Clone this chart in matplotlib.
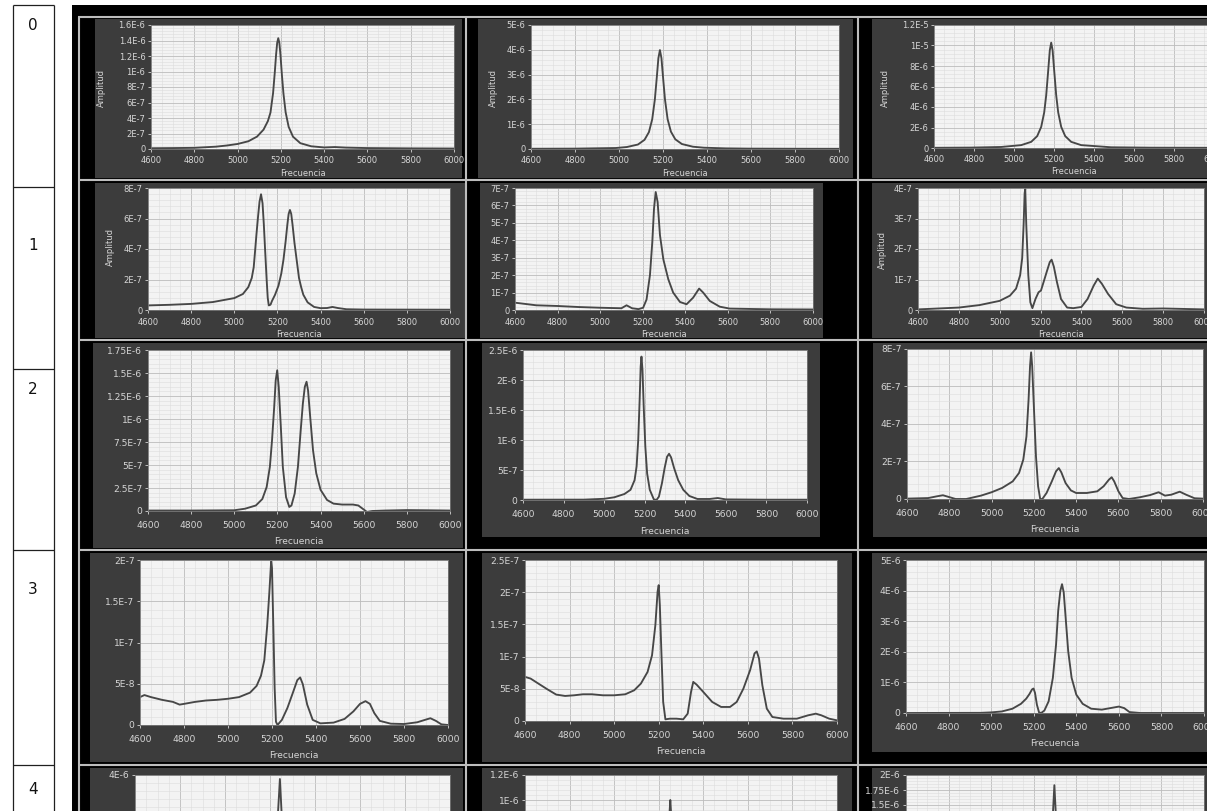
import matplotlib
matplotlib.use("Agg")
import matplotlib.pyplot as plt
from matplotlib.patches import Rectangle
from matplotlib.lines import Line2D
from matplotlib.ticker import AutoMinorLocator
from matplotlib import font_manager

W, H = 1207, 811

# ---------------------------------------------------------------- data
freq_ticks = ['4600', '4800', '5000', '5200', '5400', '5600', '5800', '6000']
row_labels = ['0', '1', '2', '3', '4']

# each spectrum: (frequency [Hz], amplitude in the panel's unit)
r0c0_unit = 1e-6
r0c0_yticks = ['0', '2E-7', '4E-7', '6E-7', '8E-7', '1E-6', '1.2E-6', '1.4E-6', '1.6E-6']
r0c0 = [(4600, 0.010), (4700, 0.012), (4800, 0.015), (4900, 0.030), (4950, 0.045),
        (5000, 0.065), (5050, 0.10), (5090, 0.16), (5120, 0.25), (5140, 0.36),
        (5152, 0.47), (5164, 0.72), (5172, 0.99), (5178, 1.22), (5183, 1.37),
        (5188, 1.43), (5193, 1.37), (5198, 1.22), (5205, 0.95), (5212, 0.715),
        (5222, 0.475), (5236, 0.286), (5256, 0.159), (5290, 0.075), (5340, 0.035),
        (5400, 0.02), (5450, 0.025), (5500, 0.018), (5600, 0.012), (5700, 0.01),
        (5800, 0.008), (6000, 0.006)]

r0c1_unit = 1e-6
r0c1_yticks = ['0', '1E-6', '2E-6', '3E-6', '4E-6', '5E-6']
r0c1 = [(4600, 0.01), (4800, 0.015), (4986, 0.04), (5036, 0.08), (5086, 0.18),
        (5116, 0.37), (5136, 0.68), (5151, 1.2), (5163, 2.0), (5172, 2.91),
        (5179, 3.66), (5186, 3.99), (5193, 3.66), (5200, 2.91), (5209, 2.0),
        (5221, 1.2), (5236, 0.70), (5256, 0.39), (5286, 0.2), (5336, 0.092),
        (5386, 0.052), (5486, 0.025), (5586, 0.015), (5800, 0.01), (6000, 0.008)]

r0c2_unit = 1e-6
r0c2_yticks = ['0', '2E-6', '4E-6', '6E-6', '8E-6', '1E-5', '1.2E-5']
r0c2 = [(4600, 0.02), (4786, 0.04), (4936, 0.10), (5036, 0.28), (5086, 0.60),
        (5116, 1.16), (5136, 2.06), (5151, 3.47), (5161, 5.14), (5171, 7.55),
        (5179, 9.53), (5186, 10.28), (5193, 9.53), (5201, 7.55), (5211, 5.14),
        (5221, 3.47), (5236, 2.06), (5256, 1.16), (5286, 0.60), (5336, 0.28),
        (5486, 0.07), (5686, 0.03), (6000, 0.02)]

r1c0_unit = 1e-7
r1c0_yticks = ['0', '2E-7', '4E-7', '6E-7', '8E-7']
r1c0 = [(4600, 0.30), (4700, 0.34), (4800, 0.40), (4900, 0.52), (5000, 0.78),
        (5040, 1.05), (5065, 1.5), (5081, 2.1), (5090, 2.8), (5096, 3.8),
        (5103, 5.0), (5110, 6.1), (5117, 7.1), (5124, 7.59), (5131, 7.0),
        (5137, 5.6), (5143, 3.9), (5150, 2.0), (5155, 0.8), (5160, 0.3),
        (5168, 0.35), (5175, 0.6), (5189, 1.0), (5205, 1.6), (5218, 2.4),
        (5228, 3.3), (5238, 4.5), (5246, 5.6), (5252, 6.3), (5258, 6.56),
        (5264, 6.3), (5270, 5.6), (5279, 4.4), (5289, 3.3), (5300, 2.1),
        (5310, 1.5), (5320, 1.0), (5340, 0.5), (5370, 0.2), (5400, 0.12),
        (5430, 0.13), (5455, 0.2), (5480, 0.13), (5520, 0.05), (5600, 0.03),
        (6000, 0.02)]

r1c1_unit = 1e-7
r1c1_yticks = ['0', '1E-7', '2E-7', '3E-7', '4E-7', '5E-7', '6E-7', '7E-7']
r1c1 = [(4600, 0.42), (4700, 0.27), (4800, 0.23), (4900, 0.17), (5000, 0.13),
        (5100, 0.10), (5124, 0.27), (5150, 0.10), (5180, 0.05), (5202, 0.13),
        (5218, 0.6), (5234, 2.0), (5245, 3.9), (5253, 5.8), (5261, 6.77),
        (5270, 6.2), (5281, 4.3), (5297, 2.9), (5320, 1.77), (5343, 1.0),
        (5375, 0.46), (5406, 0.33), (5437, 0.71), (5465, 1.23), (5484, 1.0),
        (5515, 0.52), (5562, 0.19), (5609, 0.08), (5800, 0.04), (6000, 0.03)]

r1c2_unit = 1e-7
r1c2_yticks = ['0', '1E-7', '2E-7', '3E-7', '4E-7']
r1c2 = [(4600, 0.02), (4800, 0.08), (4900, 0.16), (5000, 0.3), (5050, 0.47),
        (5080, 0.7), (5100, 1.14), (5110, 1.7), (5117, 2.8), (5122, 3.83),
        (5125, 3.97), (5130, 2.8), (5140, 1.14), (5150, 0.25), (5160, 0.06),
        (5175, 0.36), (5190, 0.58), (5202, 0.64), (5215, 0.92), (5230, 1.25),
        (5245, 1.57), (5254, 1.65), (5265, 1.42), (5280, 0.92), (5300, 0.36),
        (5330, 0.08), (5360, 0.06), (5400, 0.1), (5430, 0.36), (5460, 0.8),
        (5480, 1.03), (5500, 0.86), (5530, 0.53), (5570, 0.19), (5620, 0.08),
        (5700, 0.04), (5800, 0.05), (6000, 0.02)]

r2c0_unit = 1e-6
r2c0_yticks = ['0', '2.5E-7', '5E-7', '7.5E-7', '1E-6', '1.25E-6', '1.5E-6', '1.75E-6']
r2c0 = [(4600, 0.005), (4800, 0.005), (5000, 0.008), (5050, 0.025), (5100, 0.06),
        (5130, 0.13), (5150, 0.26), (5165, 0.48), (5175, 0.77), (5185, 1.13),
        (5192, 1.42), (5199, 1.53), (5206, 1.35), (5215, 0.95), (5225, 0.48),
        (5240, 0.15), (5255, 0.044), (5265, 0.06), (5280, 0.19), (5295, 0.48),
        (5308, 0.88), (5318, 1.17), (5327, 1.35), (5335, 1.405), (5342, 1.31),
        (5352, 1.02), (5365, 0.66), (5380, 0.41), (5400, 0.23), (5430, 0.12),
        (5460, 0.08), (5500, 0.07), (5550, 0.07), (5575, 0.06), (5595, 0.025),
        (5615, -0.01), (5640, 0.0), (5700, 0.005), (5800, 0.01), (5900, 0.008),
        (6000, 0.005)]

r2c1_unit = 1e-6
r2c1_yticks = ['0', '5E-7', '1E-6', '1.5E-6', '2E-6', '2.5E-6']
r2c1 = [(4600, 0.005), (4900, 0.006), (5000, 0.02), (5050, 0.045), (5100, 0.1),
        (5130, 0.17), (5150, 0.33), (5160, 0.56), (5168, 1.0), (5175, 1.67),
        (5180, 2.22), (5184, 2.39), (5189, 2.17), (5195, 1.56), (5203, 0.89),
        (5212, 0.44), (5225, 0.17), (5245, 0.01), (5258, 0.0), (5270, 0.056),
        (5285, 0.28), (5298, 0.53), (5310, 0.72), (5320, 0.77), (5330, 0.71),
        (5345, 0.53), (5365, 0.33), (5390, 0.17), (5420, 0.067), (5460, 0.017),
        (5520, 0.017), (5560, 0.033), (5600, 0.01), (5800, 0.005), (6000, 0.005)]

r2c2_unit = 1e-7
r2c2_yticks = ['0', '2E-7', '4E-7', '6E-7', '8E-7']
r2c2 = [(4600, 0.02), (4700, 0.05), (4740, 0.14), (4770, 0.2), (4800, 0.1),
        (4830, 0.0), (4880, 0.0), (4950, 0.18), (5000, 0.36), (5050, 0.59),
        (5100, 0.94), (5130, 1.39), (5150, 2.1), (5165, 3.34), (5175, 5.3),
        (5182, 7.1), (5187, 7.82), (5192, 7.1), (5200, 4.94), (5210, 2.28),
        (5220, 0.68), (5230, 0.0), (5240, 0.0), (5260, 0.32), (5285, 0.94),
        (5305, 1.48), (5318, 1.65), (5330, 1.42), (5350, 0.85), (5375, 0.46),
        (5400, 0.32), (5450, 0.32), (5500, 0.41), (5530, 0.68), (5555, 1.03),
        (5568, 1.16), (5580, 0.94), (5600, 0.41), (5620, 0.05), (5650, 0.0),
        (5700, 0.09), (5750, 0.21), (5790, 0.36), (5820, 0.18), (5850, 0.23),
        (5890, 0.39), (5920, 0.23), (5960, 0.04), (6000, 0.02)]

r3c0_unit = 1e-8
r3c0_yticks = ['0', '5E-8', '1E-7', '1.5E-7', '2E-7']
r3c0 = [(4600, 3.38), (4620, 3.63), (4650, 3.38), (4700, 3.05), (4750, 2.8),
        (4780, 2.47), (4800, 2.56), (4850, 2.8), (4900, 2.97), (4950, 3.05),
        (5000, 3.18), (5050, 3.38), (5100, 3.92), (5130, 4.74), (5150, 5.98),
        (5165, 7.84), (5178, 12.0), (5188, 16.1), (5196, 19.8), (5200, 19.0),
        (5206, 12.0), (5212, 4.5), (5218, 0.4), (5225, 0.0), (5245, 0.62),
        (5270, 2.06), (5295, 3.92), (5315, 5.44), (5328, 5.77), (5340, 4.95),
        (5360, 2.47), (5385, 0.62), (5420, 0.2), (5480, 0.29), (5530, 0.74),
        (5570, 1.65), (5600, 2.56), (5625, 2.89), (5645, 2.56), (5665, 1.44),
        (5690, 0.5), (5740, 0.16), (5800, 0.12), (5860, 0.33), (5900, 0.66),
        (5920, 0.82), (5945, 0.5), (5970, 0.08), (6000, 0.0)]

r3c1_unit = 1e-8
r3c1_yticks = ['0', '5E-8', '1E-7', '1.5E-7', '2E-7', '2.5E-7']
r3c1 = [(4600, 6.85), (4625, 6.59), (4660, 5.81), (4700, 4.93), (4740, 4.1),
        (4780, 3.89), (4820, 3.99), (4860, 4.15), (4900, 4.15), (4950, 3.99),
        (5000, 3.99), (5050, 4.15), (5090, 4.77), (5120, 5.81), (5150, 7.62),
        (5170, 10.2), (5185, 14.9), (5195, 20.1), (5200, 21.1), (5205, 18.0),
        (5212, 10.7), (5220, 2.96), (5230, 0.26), (5250, 0.36), (5280, 0.36),
        (5310, 0.26), (5330, 1.14), (5345, 4.51), (5355, 6.07), (5370, 5.65),
        (5400, 4.51), (5440, 2.96), (5480, 2.18), (5520, 2.18), (5550, 2.96),
        (5580, 5.03), (5610, 7.88), (5630, 10.5), (5640, 10.8), (5650, 9.7),
        (5665, 5.55), (5685, 1.92), (5710, 0.62), (5760, 0.36), (5820, 0.36),
        (5870, 0.88), (5905, 1.14), (5930, 0.88), (5965, 0.36), (6000, 0.1)]

r3c2_unit = 1e-6
r3c2_yticks = ['0', '1E-6', '2E-6', '3E-6', '4E-6', '5E-6']
r3c2 = [(4600, 0.0), (4950, 0.005), (5000, 0.02), (5050, 0.05), (5100, 0.14),
        (5140, 0.3), (5165, 0.47), (5180, 0.62), (5192, 0.77), (5199, 0.8),
        (5206, 0.66), (5215, 0.27), (5225, 0.02), (5235, 0.0), (5250, 0.08),
        (5270, 0.38), (5290, 1.15), (5305, 2.24), (5315, 3.34), (5325, 3.99),
        (5333, 4.21), (5341, 3.94), (5350, 3.12), (5362, 2.02), (5378, 1.15),
        (5400, 0.6), (5430, 0.3), (5470, 0.14), (5520, 0.11), (5560, 0.16),
        (5600, 0.21), (5625, 0.16), (5650, 0.03), (5700, 0.0), (6000, 0.0)]

r4c0_unit = 1e-6
r4c0_yticks = ['0', '1E-6', '2E-6', '3E-6', '4E-6']
r4c0 = [(4600, 0.02), (5000, 0.08), (5150, 0.3), (5200, 0.8), (5222, 1.8),
        (5235, 3.0), (5244, 3.9), (5252, 3.0), (5266, 1.6), (5290, 0.7),
        (5350, 0.2), (5450, 0.05), (6000, 0.02)]

r4c1_unit = 1e-7
r4c1_yticks = ['0', '2E-7', '4E-7', '6E-7', '8E-7', '1E-6', '1.2E-6']
r4c1 = [(4600, 0.1), (5050, 0.3), (5180, 1.0), (5225, 3.0), (5242, 7.0),
        (5252, 10.0), (5262, 7.0), (5285, 3.0), (5340, 1.0), (5550, 0.2),
        (6000, 0.1)]

r4c2_unit = 1e-6
r4c2_yticks = ['0', '2.5E-7', '5E-7', '7.5E-7', '1E-6', '1.25E-6', '1.5E-6', '1.75E-6', '2E-6']
r4c2 = [(4600, 0.01), (5000, 0.05), (5200, 0.2), (5270, 0.6), (5288, 1.2),
        (5297, 1.83), (5306, 1.2), (5322, 0.6), (5370, 0.2), (5500, 0.05),
        (6000, 0.01)]

spectra = {
    (0, 0): (r0c0, r0c0_unit, r0c0_yticks), (0, 1): (r0c1, r0c1_unit, r0c1_yticks),
    (0, 2): (r0c2, r0c2_unit, r0c2_yticks), (1, 0): (r1c0, r1c0_unit, r1c0_yticks),
    (1, 1): (r1c1, r1c1_unit, r1c1_yticks), (1, 2): (r1c2, r1c2_unit, r1c2_yticks),
    (2, 0): (r2c0, r2c0_unit, r2c0_yticks), (2, 1): (r2c1, r2c1_unit, r2c1_yticks),
    (2, 2): (r2c2, r2c2_unit, r2c2_yticks), (3, 0): (r3c0, r3c0_unit, r3c0_yticks),
    (3, 1): (r3c1, r3c1_unit, r3c1_yticks), (3, 2): (r3c2, r3c2_unit, r3c2_yticks),
    (4, 0): (r4c0, r4c0_unit, r4c0_yticks), (4, 1): (r4c1, r4c1_unit, r4c1_yticks),
    (4, 2): (r4c2, r4c2_unit, r4c2_yticks),
}

# ---------------------------------------------------------------- layout (pixels)
FRAMES = {
    (0, 0): (95, 19, 462, 178), (0, 1): (478, 19, 853, 178), (0, 2): (872, 19, 1230, 178),
    (1, 0): (95, 183, 465, 338), (1, 1): (480, 183, 823, 338), (1, 2): (872, 183, 1230, 338),
    (2, 0): (93, 343, 463, 548), (2, 1): (482, 343, 820, 537), (2, 2): (873, 343, 1230, 537),
    (3, 0): (90, 553, 463, 762), (3, 1): (482, 553, 852, 762), (3, 2): (872, 553, 1230, 752),
    (4, 0): (90, 768, 463, 830), (4, 1): (482, 768, 852, 830), (4, 2): (872, 768, 1230, 830),
}
PLOTS = {
    (0, 0): (151, 25, 454, 149), (0, 1): (531, 25, 839, 149), (0, 2): (934, 25, 1214, 148),
    (1, 0): (148, 188, 450, 310), (1, 1): (515, 188, 813, 310), (1, 2): (918, 188, 1204, 310),
    (2, 0): (148, 350, 450, 511), (2, 1): (523, 350, 807, 500), (2, 2): (907, 349, 1203, 499),
    (3, 0): (140, 560, 448, 725), (3, 1): (525, 560, 837, 721), (3, 2): (906, 560, 1204, 713),
    (4, 0): (135, 775, 450, 935), (4, 1): (525, 775, 837, 925), (4, 2): (906, 775, 1204, 895),
}
# gap (px) from plot bottom to the x-axis title, x tick-label pad (pt), font size per row
ROW_STYLE = {0: (24, 2.5, 6.0), 1: (24, 3.0, 6.0), 2: (31, 4.5, 6.6),
             3: (31, 4.5, 6.6), 4: (31, 4.5, 6.6)}
YLABEL_POS = {(0, 0): (101, 88), (0, 1): (493, 88), (0, 2): (885, 88),
              (1, 0): (110, 247), (1, 2): (882, 250)}

SEP_Y = [17, 180, 340, 550, 765]
SEP_X = [79, 466, 858]
TABLE_Y = [5, 187, 369, 550, 765]
LABEL_Y = [25, 245, 390, 590, 790]

FRAME_COLOR = '#3c3c3c'
PLOT_BG = '#f3f3f3'
TEXT_COLOR = '#d6d6d6'
LINE_COLOR = '#474747'

names = {f.name for f in font_manager.fontManager.ttflist}
small_font = 'Liberation Sans Narrow' if 'Liberation Sans Narrow' in names else 'DejaVu Sans'

fig = plt.figure(figsize=(W / 100, H / 100), dpi=100)
fig.patch.set_facecolor('white')


def fx(x):
    return x / W


def fy(y):
    return 1 - y / H


def box(x0, y0, x1, y1, **kw):
    fig.add_artist(Rectangle((fx(x0), fy(y1)), (x1 - x0) / W, (y1 - y0) / H,
                             transform=fig.transFigure, zorder=-5, **kw))


def seg(x0, y0, x1, y1, color, lw):
    fig.add_artist(Line2D([fx(x0), fx(x1)], [fy(y0), fy(y1)], transform=fig.transFigure,
                          color=color, lw=lw, zorder=-4, solid_capstyle='butt'))


# row-number table on the left
for y in TABLE_Y:
    seg(13, y, 54, y, '#202020', 0.9)
seg(13, 5, 13, 811, '#202020', 0.9)
seg(54, 5, 54, 811, '#202020', 0.9)
for lab, y in zip(row_labels, LABEL_Y):
    fig.text(fx(33), fy(y), lab, ha='center', va='center', fontsize=11,
             color='#111111', family='DejaVu Sans')

# black screen area with light separators
box(72, 5, W + 5, H + 5, facecolor='black', edgecolor='none')
for y in SEP_Y:
    seg(78, y, W + 5, y, '#bdbdbd', 1.5)
for x in SEP_X:
    seg(x, 17, x, H + 5, '#bdbdbd', 1.5)

for key, frame in FRAMES.items():
    box(*frame, facecolor=FRAME_COLOR, edgecolor='none')
    pts, unit, ylabels = spectra[key]
    gap, xpad, fsize = ROW_STYLE[key[0]]
    x0, y0, x1, y1 = PLOTS[key]
    ax = fig.add_axes([fx(x0), fy(y1), (x1 - x0) / W, (y1 - y0) / H])
    ax.set_zorder(1)
    ax.set_facecolor(PLOT_BG)
    freqs = [p[0] for p in pts]
    amps = [p[1] * unit for p in pts]
    ax.plot(freqs, amps, color=LINE_COLOR, lw=1.35, solid_joinstyle='round')
    ax.set_xlim(4600, 6000)
    ax.set_ylim(0, float(ylabels[-1]))
    ax.set_xticks([float(t) for t in freq_ticks])
    ax.set_xticklabels(freq_ticks)
    ax.set_yticks([float(t) for t in ylabels])
    ax.set_yticklabels(ylabels)
    ax.xaxis.set_minor_locator(AutoMinorLocator(4))
    ax.yaxis.set_minor_locator(AutoMinorLocator(5))
    ax.grid(which='major', color='#bcbcbc', lw=0.6)
    ax.grid(which='minor', color='#dcdcdc', lw=0.4)
    ax.set_axisbelow(True)
    ax.tick_params(which='major', length=2.5, width=0.6, colors=TEXT_COLOR,
                   labelsize=fsize, pad=1.5)
    ax.tick_params(axis='x', which='major', pad=xpad)
    ax.tick_params(which='minor', length=0)
    for lbl in ax.get_xticklabels() + ax.get_yticklabels():
        lbl.set_family(small_font)
    for sp in ax.spines.values():
        sp.set_color('#7a7a7a')
        sp.set_linewidth(0.6)
    fig.text(fx((x0 + x1) / 2), fy(y1 + gap), 'Frecuencia', ha='center', va='center',
             fontsize=fsize, color=TEXT_COLOR, family=small_font)
    if key in YLABEL_POS:
        px, py = YLABEL_POS[key]
        fig.text(fx(px), fy(py), 'Amplitud', ha='center', va='center', rotation=90,
                 fontsize=fsize, color=TEXT_COLOR, family=small_font)

fig.savefig('out.png', dpi=100, facecolor='white')
